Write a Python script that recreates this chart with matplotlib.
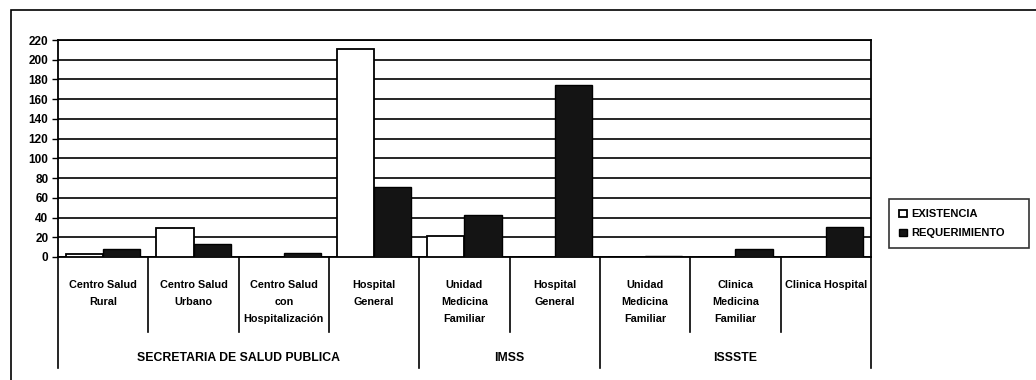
import matplotlib.pyplot as plt
import numpy as np
from matplotlib.patches import Rectangle

categorias = ['Centro Salud\nRural', 'Centro Salud\nUrbano', 'Centro Salud\ncon\nHospitalización',
              'Hospital\nGeneral', 'Unidad\nMedicina\nFamiliar', 'Hospital\nGeneral',
              'Unidad\nMedicina\nFamiliar', 'Clinica\nMedicina\nFamiliar', 'Clinica Hospital']
grupos = ['SECRETARIA DE SALUD PUBLICA', 'IMSS', 'ISSSTE']
grupo_tam = [4, 2, 3]
existencia = [3, 29, 0, 211, 21, 0, 0, 0, 0]
requerimiento = [8, 13, 4, 71, 43, 174, 1, 8, 30]

plt.rcParams['font.family'] = ['Liberation Sans', 'DejaVu Sans']
plt.rcParams['font.weight'] = 'bold'

fig = plt.figure(figsize=(10.36, 3.8), dpi=100)
ax = fig.add_axes([0.056, 0.3237, 0.7847, 0.571])

# marco exterior
fig.add_artist(Rectangle((0.011, -0.05), 1.2, 1.023, transform=fig.transFigure,
                         fill=False, edgecolor='black', linewidth=1.2))

x = np.arange(len(categorias))
w = 0.41
ax.bar(x - w / 2, existencia, w, color='white', edgecolor='black', linewidth=1.3,
       label='EXISTENCIA', zorder=3)
ax.bar(x + w / 2, requerimiento, w, color='#141414', edgecolor='black', linewidth=1.0,
       label='REQUERIMIENTO', zorder=3)

ax.set_xlim(-0.5, len(categorias) - 0.5)
ax.set_ylim(0, 220)
ax.set_yticks(range(0, 221, 20))
ax.yaxis.grid(True, color='black', linewidth=1.2)
ax.set_axisbelow(True)
ax.set_xticks([])
ax.tick_params(axis='y', labelsize=8.5, length=4, width=1, pad=3)
for lab in ax.get_yticklabels():
    lab.set_fontweight('bold')
for s in ax.spines.values():
    s.set_linewidth(1.3)

tr = ax.get_xaxis_transform()
# separadores de categorias y grupos
limites_grupo = np.cumsum([0] + grupo_tam) - 0.5
for b in np.arange(len(categorias) + 1) - 0.5:
    low = -0.51 if b in limites_grupo else -0.346
    ax.plot([b, b], [0, low], transform=tr, color='black', linewidth=1.2, clip_on=False)

for i, c in enumerate(categorias):
    ax.text(i, -0.105, c, transform=tr, ha='center', va='top', fontsize=7.8,
            fontweight='bold', linespacing=1.9)

inicio = 0
for g, n in zip(grupos, grupo_tam):
    ax.text(inicio + (n - 1) / 2, -0.465, g, transform=tr, ha='center', va='center',
            fontsize=8.8, fontweight='bold')
    inicio += n

leg = fig.legend(loc='lower left', bbox_to_anchor=(0.853, 0.332, 0.146, 0.135), mode='expand',
                 fontsize=8, frameon=True, fancybox=False, edgecolor='black',
                 handlelength=0.7, handleheight=0.7, handletextpad=0.4, borderpad=0.9,
                 labelspacing=0.8)
leg.get_frame().set_linewidth(1.2)
for t in leg.get_texts():
    t.set_fontweight('bold')

fig.savefig('out.png', dpi=100)
